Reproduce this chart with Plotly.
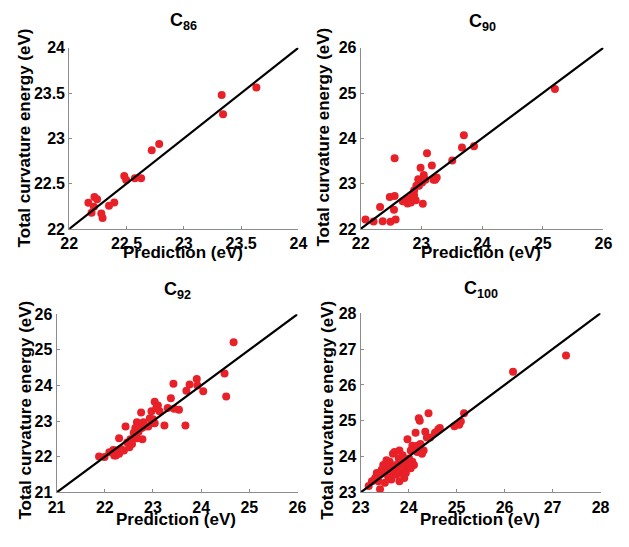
import plotly.graph_objects as go

W, H = 629, 547

# ---------------- data ----------------
c86_pred = [22.167, 22.220, 22.243, 22.215, 22.195, 22.280, 22.291, 22.347, 22.393,
            22.480, 22.497, 22.573, 22.627, 22.720, 22.785, 23.330, 23.342, 23.633]
c86_true = [22.288, 22.352, 22.327, 22.246, 22.178, 22.171, 22.121, 22.256, 22.292,
            22.584, 22.541, 22.559, 22.559, 22.868, 22.936, 23.477, 23.267, 23.562]

c90_pred = [22.08, 22.213, 22.363, 22.491, 22.576, 22.32, 22.48, 22.56, 22.549, 22.56,
            23.093, 22.987, 23.173, 23.04, 22.949, 22.917, 22.88, 22.853, 22.80, 22.747,
            22.693, 22.773, 22.827, 22.907, 22.88, 23.024, 23.20, 23.253, 23.227, 23.013,
            23.067, 22.96, 23.509, 23.669, 23.867, 23.70, 25.20]
c90_true = [22.207, 22.164, 22.171, 22.157, 22.207, 22.485, 22.706, 22.727, 22.421, 23.561,
            23.668, 23.348, 23.398, 23.19, 23.098, 22.955, 22.848, 22.742, 22.67, 22.635,
            22.613, 22.563, 22.585, 22.635, 22.742, 22.556, 23.084, 23.134, 23.084, 23.027,
            23.084, 22.955, 23.512, 23.797, 23.825, 24.07, 25.09]

c92_pred = [21.881, 21.995, 22.095, 22.176, 22.23, 22.297, 22.331, 22.398, 22.297, 22.431,
            22.465, 22.532, 22.60, 22.566, 22.667, 22.701, 22.667, 22.734, 22.781, 22.768,
            22.835, 22.754, 22.902, 22.969, 23.036, 23.002, 22.969, 23.036, 23.103, 23.136,
            23.07, 23.238, 23.305, 23.372, 23.439, 23.54, 23.425, 23.674, 23.694, 23.761,
            23.909, 23.923, 24.044, 22.51, 22.23, 22.196, 22.634, 22.935, 22.801,
            24.486, 24.52, 24.674]
c92_true = [22.012, 21.996, 22.131, 22.193, 22.04, 22.085, 22.22, 22.175, 22.52, 22.853,
            22.401, 22.491, 22.672, 22.356, 22.52, 22.70, 22.97, 22.90, 22.49, 22.808,
            22.853, 23.242, 22.853, 22.943, 22.943, 23.05, 23.278, 23.546, 23.44, 23.278,
            23.37, 22.88, 23.37, 23.64, 23.35, 23.32, 24.05, 22.88, 23.85, 24.03,
            24.18, 24.0, 23.84, 22.27, 22.18, 22.04, 22.81, 23.08, 22.97,
            24.336, 23.694, 25.213]

c100_pred = [24.414, 24.212, 24.232, 25.155, 24.953, 25.054, 25.088, 24.347, 24.145, 24.38,
             24.448, 24.549, 24.616, 24.65, 23.976, 24.077, 24.178, 24.246, 24.279, 24.044,
             24.178, 23.808, 23.673, 23.795, 23.875, 23.943, 24.01, 24.077, 24.111, 23.976,
             23.875, 23.741, 23.673, 23.606, 23.539, 23.572, 23.471, 23.438, 23.505, 23.404,
             23.337, 23.303, 23.236, 23.168, 23.37, 23.505, 23.64, 23.808, 23.741, 23.842,
             23.673, 23.943, 24.044, 23.404, 23.943, 23.572, 23.909, 23.774, 23.707, 24.313,
             26.176, 27.28]
c100_true = [25.207, 25.072, 25.0, 25.207, 24.847, 24.892, 24.982, 24.694, 24.667, 24.53,
             24.53, 24.667, 24.757, 24.80, 24.486, 24.306, 24.306, 24.351, 24.081, 24.171,
             24.126, 24.171, 24.081, 23.946, 24.036, 23.90, 23.946, 23.856, 23.766, 23.766,
             23.766, 23.766, 23.676, 23.856, 23.90, 23.72, 23.766, 23.63, 23.54, 23.495,
             23.54, 23.405, 23.315, 23.18, 23.315, 23.27, 23.36, 23.315, 23.495, 23.54,
             23.54, 23.63, 23.676, 23.09, 23.54, 23.45, 23.405, 23.63, 24.126, 24.171,
             26.369, 26.82]

titles = ["C<sub>86</sub>", "C<sub>90</sub>", "C<sub>92</sub>", "C<sub>100</sub>"]
ranges = [[22, 24], [22, 26], [21, 26], [23, 28]]
ticks = [[22, 22.5, 23, 23.5, 24], [22, 23, 24, 25, 26],
         [21, 22, 23, 24, 25, 26], [23, 24, 25, 26, 27, 28]]
tick_text = [["22", "22.5", "23", "23.5", "24"], ["22", "23", "24", "25", "26"],
             ["21", "22", "23", "24", "25", "26"], ["23", "24", "25", "26", "27", "28"]]
x_label = "Prediction (eV)"
y_label = "Total curvature energy (eV)"

preds = [c86_pred, c90_pred, c92_pred, c100_pred]
trues = [c86_true, c90_true, c92_true, c100_true]

# ---------------- layout (pixel positions) ----------------
boxes = [(62, 298, 41, 228), (362, 612, 41, 228), (49, 297, 316, 500), (362, 609, 315, 500)]
title_y = [14, 15, 292, 291]
xlab_y = [252, 252, 528, 528]
ylab_x = [16, 324, 17, 327]
ylab_y = [134, 133, 415, 415]


def px(x):
    return x / W


def py(y):
    return 1 - y / H


FONT = "Liberation Sans, Arial, sans-serif"
RED = "rgb(232,32,40)"

fig = go.Figure()
layout = dict(width=W, height=H, margin=dict(l=0, r=0, t=0, b=0),
              paper_bgcolor="white", plot_bgcolor="white", showlegend=False,
              annotations=[])

for i in range(4):
    n = "" if i == 0 else str(i + 1)
    xa, ya = "x" + n, "y" + n
    fig.add_trace(go.Scatter(x=preds[i], y=trues[i], mode="markers", xaxis=xa, yaxis=ya,
                             marker=dict(color=RED, size=8, line=dict(width=0))))
    fig.add_trace(go.Scatter(x=ranges[i], y=ranges[i], mode="lines", xaxis=xa, yaxis=ya,
                             line=dict(color="black", width=2.2)))
    x0, x1, y0, y1 = boxes[i]
    bold_ticks = ["<b>" + t + "</b>" for t in tick_text[i]]
    axis_common = dict(showgrid=False, zeroline=False, showline=True, linecolor="#8c8c8c",
                       linewidth=1, ticks="inside", ticklen=3, tickcolor="#8c8c8c",
                       tickfont=dict(family=FONT, size=16, color="black"),
                       fixedrange=True)
    layout["xaxis" + n] = dict(domain=[px(x0), px(x1)], anchor=ya, range=ranges[i],
                               tickvals=ticks[i], ticktext=bold_ticks, **axis_common)
    layout["yaxis" + n] = dict(domain=[py(y1), py(y0)], anchor=xa, range=ranges[i],
                               tickvals=ticks[i], ticktext=bold_ticks, **axis_common)
    cx = (x0 + x1) / 2
    layout["annotations"].append(dict(text="<b>" + titles[i] + "</b>", xref="paper", yref="paper",
                                      x=px(cx), y=py(title_y[i]), xanchor="center", yanchor="middle",
                                      showarrow=False,
                                      font=dict(family=FONT, size=18, color="black")))
    layout["annotations"].append(dict(text="<b>" + x_label + "</b>", xref="paper", yref="paper",
                                      x=px(cx - 1), y=py(xlab_y[i]), xanchor="center", yanchor="middle",
                                      showarrow=False,
                                      font=dict(family=FONT, size=17, color="black")))
    layout["annotations"].append(dict(text="<b>" + y_label + "</b>", xref="paper", yref="paper",
                                      x=px(ylab_x[i]), y=py(ylab_y[i]),
                                      xanchor="center", yanchor="middle", textangle=-90,
                                      showarrow=False,
                                      font=dict(family=FONT, size=17, color="black")))

fig.update_layout(**layout)
fig.write_html("out.html", config={"displayModeBar": False},
               post_script="document.body.style.margin='0';")
